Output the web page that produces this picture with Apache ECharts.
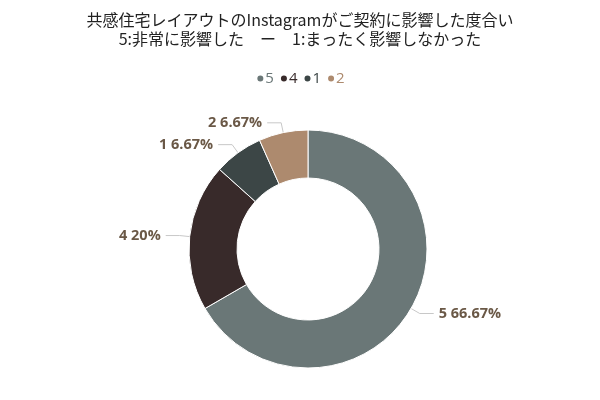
<!DOCTYPE html>
<html><head><meta charset="utf-8">
<script src="https://cdn.jsdelivr.net/npm/echarts@6/dist/echarts.min.js"></script>
<style>html,body{margin:0;padding:0;background:#fff}#c{width:600px;height:400px}</style>
</head><body><div id="c"></div>
<script>
var categories = ['5', '4', '1', '2'];
var values = [66.67, 20, 6.67, 6.67];
var colors = ['#6a7777', '#382a2a', '#3c4646', '#ad8a6e'];
var titleLines = ['共感住宅レイアウトのInstagramがご契約に影響した度合い', '5:非常に影響した　ー　1:まったく影響しなかった'];

var rich = {};
categories.forEach(function (c, i) {
  rich['c' + i] = { color: colors[i], fontSize: 15, fontFamily: 'Open Sans' };
});

var chart = echarts.init(document.getElementById('c'));
chart.setOption({
  animation: false,
  color: colors,
  title: {
    text: titleLines.join('\n'),
    left: 'center',
    top: 5,
    textStyle: { fontFamily: 'Noto Sans CJK JP', fontSize: 16, fontWeight: 'normal', color: '#222', lineHeight: 19 }
  },
  legend: {
    data: categories,
    top: 66,
    left: 'center',
    icon: 'circle',
    itemWidth: 8,
    itemHeight: 8,
    itemGap: 5,
    formatter: function (n) { return '{c' + categories.indexOf(n) + '|' + n + '}'; },
    textStyle: { fontFamily: 'Open Sans', fontSize: 15, padding: [0, 0, 0, -4], rich: rich }
  },
  series: [{
    type: 'pie',
    center: [308, 249],
    radius: [71, 119],
    startAngle: 90,
    clockwise: true,
    itemStyle: { borderColor: '#fff', borderWidth: 1 },
    label: {
      formatter: function (p) { return p.name + ' ' + p.value + '%'; },
      fontFamily: 'Open Sans', fontSize: 14.5, fontWeight: 'bold', color: '#6a5846'
    },
    labelLine: { length: 10, length2: 14, lineStyle: { color: '#c8c8c8', width: 1 } },
    data: categories.map(function (c, i) { return { name: c, value: values[i] }; })
  }]
});
</script></body></html>
